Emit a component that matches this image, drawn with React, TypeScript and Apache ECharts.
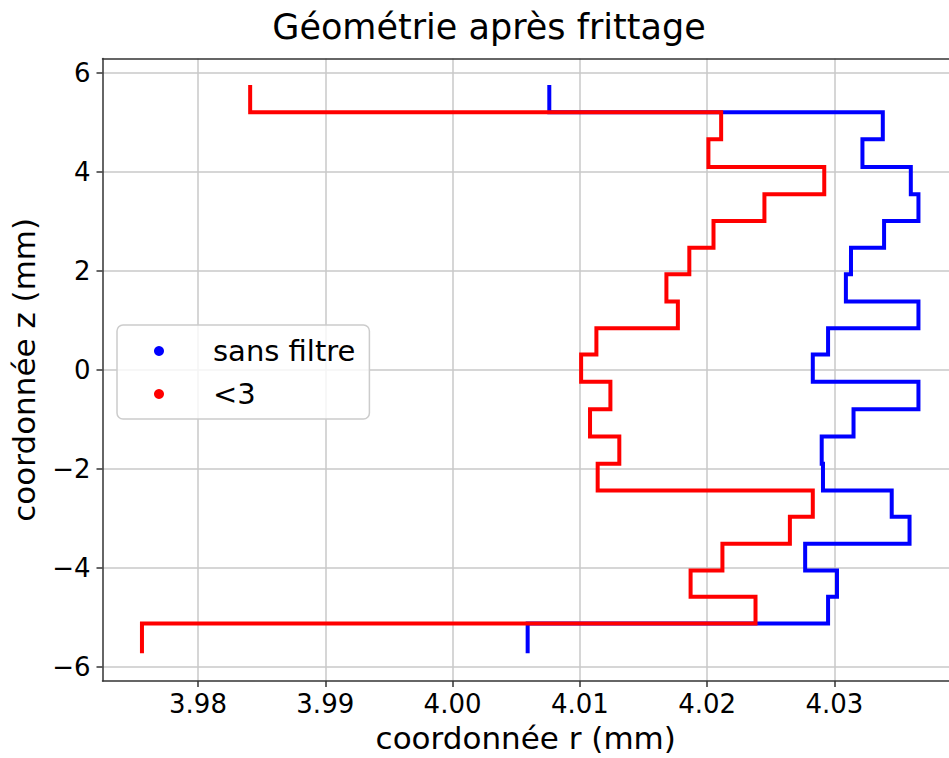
import React, { useEffect, useRef } from "react";
import * as echarts from "echarts";

// z levels (mm) where the radius changes (segment boundaries, top to bottom)
const zEdges = [
  5.76, 5.21, 4.66, 4.10, 3.55, 3.01, 2.47, 1.93, 1.38, 0.84, 0.31,
  -0.24, -0.80, -1.35, -1.90, -2.44, -2.97, -3.52, -4.06, -4.59, -5.13, -5.73,
];

// radius (mm) on each segment, "sans filtre"
const rSansFiltre = [
  4.0076, 4.0338, 4.0322, 4.0360, 4.0366, 4.0339, 4.0313, 4.0309, 4.0366, 4.0295, 4.0283,
  4.0366, 4.0315, 4.0290, 4.0291, 4.0345, 4.0359, 4.0277, 4.0302, 4.0295, 4.0059,
];

// radius (mm) on each segment, "<3"
const rInf3 = [
  3.9841, 4.0211, 4.0201, 4.0292, 4.0245, 4.0205, 4.0186, 4.0168, 4.0177, 4.0113, 4.0101,
  4.0124, 4.0108, 4.0131, 4.0114, 4.0283, 4.0265, 4.0212, 4.0187, 4.0238, 3.9756,
];

const seriesNames = ["sans filtre", "<3"];
const seriesColors = ["#0000ff", "#ff0000"];

const title = "Géométrie après frittage";
const xName = "coordonnée r (mm)";
const yName = "coordonnée z (mm)";

function stepPoints(r: number[], z: number[]): number[][] {
  const pts: number[][] = [];
  for (let i = 0; i < r.length; i++) {
    pts.push([r[i], z[i]]);
    pts.push([r[i], z[i + 1]]);
  }
  return pts;
}

const FONT = "DejaVu Sans";
const X_MIN = 3.9725;
const X_MAX = 4.039;

export default function App() {
  const ref = useRef<HTMLDivElement>(null);
  useEffect(() => {
    if (!ref.current) return;
    const chart = echarts.init(ref.current, null, { renderer: "svg" });
    const axisLineStyle = { color: "#333333", width: 1.5 };
    chart.setOption({
      animation: false,
      backgroundColor: "#ffffff",
      title: {
        text: title,
        left: 484,
        top: 4,
        textAlign: "center",
        textStyle: { fontFamily: FONT, fontSize: 35, fontWeight: "normal", color: "#000" },
      },
      grid: {
        left: 102.5,
        right: 0,
        top: 58.5,
        bottom: 73,
        show: false,
      },
      legend: {
        orient: "vertical",
        left: 117,
        top: 325,
        padding: [11.5, 14, 10.5, 37],
        itemGap: 14,
        itemWidth: 10,
        itemHeight: 10,
        icon: "circle",
        backgroundColor: "rgba(255,255,255,0.8)",
        borderColor: "#cccccc",
        borderWidth: 1.5,
        borderRadius: 6,
        textStyle: {
          fontFamily: FONT,
          fontSize: 29,
          lineHeight: 29,
          color: "#000",
          padding: [0, 0, 0, 44],
        },
        data: seriesNames,
      },
      xAxis: [
        {
          type: "value",
          position: "bottom",
          min: X_MIN,
          max: X_MAX,
          splitNumber: 5,
          minInterval: 0.01,
          maxInterval: 0.01,
          name: xName,
          nameLocation: "middle",
          nameGap: 36,
          nameTextStyle: { fontFamily: FONT, fontSize: 31, color: "#000" },
          axisLine: { show: true, onZero: false, lineStyle: axisLineStyle },
          axisTick: { show: true, length: 6, lineStyle: axisLineStyle },
          axisLabel: {
            fontFamily: FONT,
            fontSize: 26,
            color: "#000",
            margin: 10,
            showMinLabel: false,
            showMaxLabel: false,
            formatter: (v: number) => v.toFixed(2),
          },
          splitLine: {
            show: true,
            showMinLine: false,
            showMaxLine: false,
            lineStyle: { color: "#c8c8c8", width: 1.5 },
          },
        },
        {
          type: "value",
          position: "top",
          min: X_MIN,
          max: X_MAX,
          axisLine: { show: true, onZero: false, lineStyle: axisLineStyle },
          axisTick: { show: false },
          axisLabel: { show: false },
          splitLine: { show: false },
        },
      ],
      yAxis: {
        type: "value",
        min: -6.295,
        max: 6.295,
        splitNumber: 6,
        minInterval: 2,
        maxInterval: 2,
        name: yName,
        nameLocation: "middle",
        nameGap: 63,
        nameRotate: 90,
        nameTextStyle: { fontFamily: FONT, fontSize: 31, color: "#000" },
        axisLine: { show: true, onZero: false, lineStyle: axisLineStyle },
        axisTick: { show: true, length: 6, lineStyle: axisLineStyle },
        axisLabel: {
          fontFamily: FONT,
          fontSize: 26,
          color: "#000",
          margin: 12,
          showMinLabel: false,
          showMaxLabel: false,
          formatter: (v: number) => (v < 0 ? "\u2212" + Math.abs(v) : String(v)),
        },
        splitLine: {
          show: true,
          showMinLine: false,
          showMaxLine: false,
          lineStyle: { color: "#c8c8c8", width: 1.5 },
        },
      },
      series: [
        {
          name: seriesNames[0],
          type: "line",
          xAxisIndex: 0,
          data: stepPoints(rSansFiltre, zEdges),
          showSymbol: false,
          symbol: "circle",
          color: seriesColors[0],
          lineStyle: { color: seriesColors[0], width: 4, join: "miter" },
          z: 2,
        },
        {
          name: seriesNames[1],
          type: "line",
          xAxisIndex: 0,
          data: stepPoints(rInf3, zEdges),
          showSymbol: false,
          symbol: "circle",
          color: seriesColors[1],
          lineStyle: { color: seriesColors[1], width: 4, join: "miter" },
          z: 3,
        },
      ],
    });
    return () => chart.dispose();
  }, []);
  return (
    <div
      ref={ref}
      style={{ position: "fixed", left: 0, top: 0, width: 949, height: 758 }}
    />
  );
}
